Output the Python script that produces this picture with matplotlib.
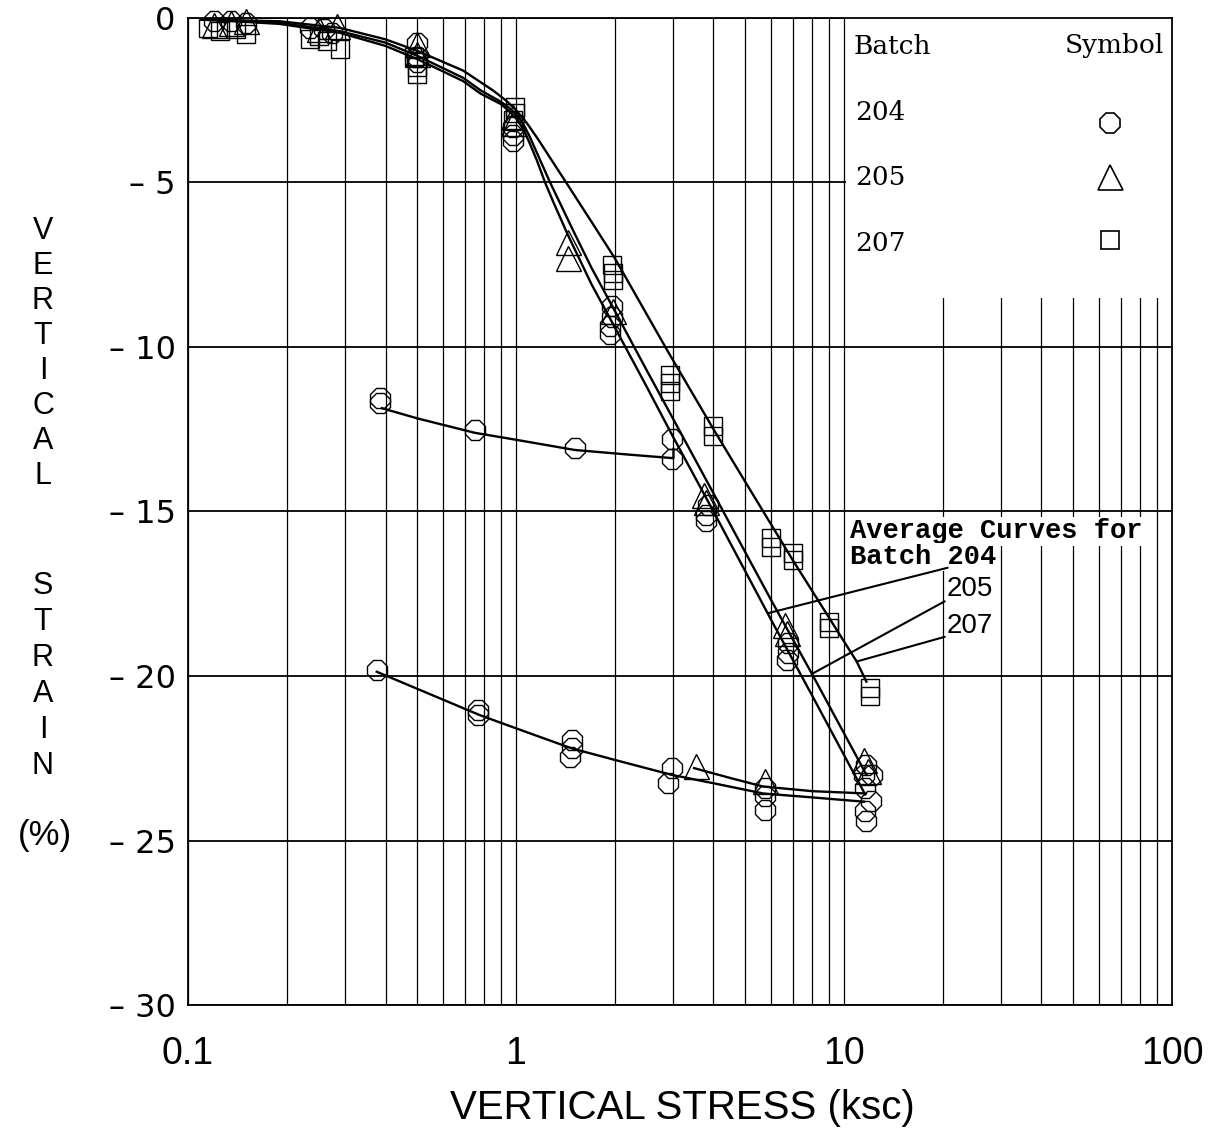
import matplotlib
matplotlib.use('Agg')
import matplotlib.pyplot as plt
from matplotlib.patches import Rectangle
from matplotlib.ticker import LogLocator, NullFormatter

# ---- measured points, batch 204 (octagons): loading, unloading from 3, unloading from 12
b204_stress = [0.12, 0.135, 0.15, 0.235, 0.26, 0.275, 0.5, 0.5, 0.5, 0.98, 0.98, 0.98,
               1.96, 1.96, 1.94, 1.94, 2.98, 3.85, 3.8, 3.8, 6.75, 6.75, 6.7,
               11.7, 11.5, 12.2, 11.6, 12.1, 11.6, 11.7,
               0.385, 0.385, 0.75, 1.51, 2.98,
               0.376, 0.766, 0.766, 1.48, 1.48, 1.46, 2.98, 2.9, 5.75, 5.75, 5.75]
b204_strain = [-0.1, -0.1, -0.15, -0.3, -0.35, -0.45, -0.75, -1.2, -1.35, -3.3, -3.55, -3.75,
               -8.75, -9.1, -9.35, -9.6, -12.8, -14.8, -15.1, -15.3, -19.0, -19.3, -19.5,
               -22.7, -23.0, -23.0, -23.4, -23.8, -24.1, -24.4,
               -11.55, -11.7, -12.52, -13.07, -13.4,
               -19.82, -21.03, -21.2, -21.95, -22.2, -22.45, -22.8, -23.26, -23.4, -23.65, -24.07]

# batch 205 (triangles)
b205_stress = [0.12, 0.135, 0.15, 0.25, 0.285, 0.5, 0.5, 0.98, 0.98, 1.44, 1.44, 1.97,
               3.75, 3.8, 6.6, 6.7, 11.5, 11.8, 3.54, 5.75]
b205_strain = [-0.2, -0.15, -0.1, -0.35, -0.25, -0.8, -1.1, -3.0, -3.2, -6.8, -7.3, -8.9,
               -14.5, -14.7, -18.45, -18.7, -22.55, -22.9, -22.75, -23.2]

# batch 207 (squares)
b207_stress = [0.115, 0.125, 0.14, 0.15, 0.235, 0.25, 0.265, 0.29, 0.49, 0.5, 0.5,
               0.99, 0.99, 0.98, 1.96, 1.98, 1.98, 2.95, 2.95, 2.95, 3.99, 3.99,
               5.98, 5.98, 6.98, 6.98, 9.0, 9.0, 12.0, 12.0]
b207_strain = [-0.3, -0.4, -0.35, -0.5, -0.65, -0.55, -0.7, -0.95, -1.2, -1.5, -1.7,
               -2.7, -2.9, -3.1, -7.5, -7.75, -7.95, -10.85, -11.1, -11.35, -12.4, -12.7,
               -15.8, -16.07, -16.26, -16.47, -18.35, -18.55, -20.37, -20.6]

# ---- average curves
avg204_x = [0.11, 0.15, 0.19, 0.29, 0.4, 0.5, 0.69, 0.78, 0.9, 0.95, 1.0, 1.05, 1.1, 1.16,
            1.226, 1.3, 1.44, 1.7, 2.0, 2.5, 3.0, 4.0, 6.0, 8.0, 11.6]
avg204_y = [-0.05, -0.12, -0.18, -0.45, -0.85, -1.25, -1.92, -2.3, -2.62, -2.82, -3.05,
            -3.35, -3.8, -4.35, -5.0, -5.6, -6.6, -8.1, -9.4, -11.2, -12.7, -15.0, -18.3,
            -20.6, -23.6]
avg205_x = [0.11, 0.15, 0.19, 0.29, 0.4, 0.5, 0.69, 0.78, 0.9, 0.95, 1.0, 1.05, 1.1, 1.17,
            1.27, 1.35, 1.5, 1.7, 2.0, 2.5, 3.0, 4.0, 6.0, 8.0, 11.7]
avg205_y = [-0.05, -0.1, -0.15, -0.4, -0.75, -1.15, -1.82, -2.2, -2.55, -2.72, -2.92,
            -3.2, -3.6, -4.2, -5.0, -5.55, -6.5, -7.6, -8.9, -10.7, -12.15, -14.45, -17.7,
            -19.95, -23.0]
avg207_x = [0.11, 0.19, 0.29, 0.4, 0.5, 0.69, 0.85, 0.93, 1.0, 1.08, 1.17, 1.27, 1.39, 1.7,
            2.0, 2.89, 4.0, 5.0, 7.0, 10.93, 11.7]
avg207_y = [-0.05, -0.1, -0.3, -0.65, -1.0, -1.6, -2.2, -2.5, -2.8, -3.2, -3.7, -4.25,
            -4.85, -6.2, -7.3, -10.1, -12.5, -14.1, -16.5, -19.56, -20.17]

# unloading curves
unl204a_x = [0.39, 0.5, 0.75, 1.0, 1.51, 2.2, 3.02, 3.02]
unl204a_y = [-11.86, -12.17, -12.61, -12.82, -13.13, -13.27, -13.38, -13.1]
unl204b_x = [0.376, 0.5, 0.776, 1.0, 1.479, 2.0, 2.97, 4.0, 5.67, 8.0, 11.5]
unl204b_y = [-19.87, -20.39, -21.19, -21.59, -22.2, -22.55, -23.0, -23.26, -23.57, -23.69, -23.82]
unl205_x = [3.49, 4.5, 5.67, 8.0, 11.67]
unl205_y = [-22.8, -23.1, -23.36, -23.5, -23.57]

batches = ['204', '205', '207']
batch_markers = {'204': ('8', 16), '205': ('^', 18), '207': ('s', 13)}

fig = plt.figure(figsize=(12.14, 11.30), dpi=100)
ax = fig.add_axes([0.1549, 0.1106, 0.8105, 0.8735])

ax.set_xscale('log')
ax.set_xlim(0.1, 100)
ax.set_ylim(-30, 0)

ax.set_xticks([0.1, 1, 10, 100])
ax.set_xticklabels(['0.1', '1', '10', '100'])
ax.xaxis.set_minor_locator(LogLocator(base=10, subs=range(2, 10)))
ax.xaxis.set_minor_formatter(NullFormatter())
yt = list(range(-30, 1, 5))
ax.set_yticks(yt)
ax.set_yticklabels(['0' if v == 0 else '\u2013 %d' % abs(v) for v in yt])
ax.tick_params(which='both', length=0)
ax.tick_params(axis='x', pad=22, labelsize=27)
ax.tick_params(axis='y', pad=9, labelsize=23)
for lbl in ax.get_xticklabels():
    lbl.set_fontfamily('Liberation Sans')
for lbl in ax.get_yticklabels():
    lbl.set_fontfamily('DejaVu Sans')

ax.set_axisbelow(True)
ax.grid(True, which='both', axis='x', color='black', lw=0.9)
ax.grid(True, which='major', axis='y', color='black', lw=1.3)
for sp in ax.spines.values():
    sp.set_linewidth(1.3)

# white legend panel covering the grid
ax.add_patch(Rectangle((10.12, -8.5), 100 - 10.12, 8.5, facecolor='white',
                       edgecolor='none', zorder=1))

# curves
for cx, cy in [(avg204_x, avg204_y), (avg205_x, avg205_y), (avg207_x, avg207_y),
               (unl204a_x, unl204a_y), (unl204b_x, unl204b_y), (unl205_x, unl205_y)]:
    ax.plot(cx, cy, color='black', lw=1.7, zorder=3, solid_joinstyle='round')

# markers
data = {'204': (b204_stress, b204_strain), '205': (b205_stress, b205_strain),
        '207': (b207_stress, b207_strain)}
for b in batches:
    mk, ms = batch_markers[b]
    ax.plot(data[b][0], data[b][1], ls='none', marker=mk, ms=ms, mfc='none',
            mec='black', mew=1.0, zorder=4, clip_on=False)

# legend inside the panel
serif = 'DejaVu Serif'
ax.text(0.676, 0.971, 'Batch', transform=ax.transAxes, fontsize=19, family=serif,
        ha='left', va='center', zorder=5)
ax.text(0.992, 0.972, 'Symbol', transform=ax.transAxes, fontsize=19, family=serif,
        ha='right', va='center', zorder=5)
key_y = [0.904, 0.838, 0.772]
mark_y = [0.894, 0.839, 0.775]
for b, ty, my in zip(batches, key_y, mark_y):
    ax.text(0.678, ty, b, transform=ax.transAxes, fontsize=19, family=serif,
            ha='left', va='center', zorder=5)
    mk, ms = batch_markers[b]
    ax.plot([0.937], [my], transform=ax.transAxes, ls='none', marker=mk, ms=ms,
            mfc='none', mec='black', mew=1.2, zorder=5)

# average curve labels
mono = 'Liberation Mono'
ax.text(0.673, 0.480, 'Average Curves for', transform=ax.transAxes, fontsize=19.5,
        family=mono, weight='bold', ha='left', va='center', zorder=5,
        bbox=dict(facecolor='white', edgecolor='none', pad=1))
ax.text(0.673, 0.454, 'Batch 204', transform=ax.transAxes, fontsize=19.5,
        family=mono, weight='bold', ha='left', va='center', zorder=5,
        bbox=dict(facecolor='white', edgecolor='none', pad=1))
ax.text(0.771, 0.421, '205', transform=ax.transAxes, fontsize=20,
        family='Liberation Sans', ha='left', va='center', zorder=5)
ax.text(0.771, 0.384, '207', transform=ax.transAxes, fontsize=20,
        family='Liberation Sans', ha='left', va='center', zorder=5)

leaders = [((5.87, -18.09), (0.772, 0.443)),
           ((7.97, -19.94), (0.769, 0.409)),
           ((10.93, -19.56), (0.769, 0.373))]
for target, start in leaders:
    ax.annotate('', xy=target, xycoords='data', xytext=start,
                textcoords='axes fraction',
                arrowprops=dict(arrowstyle='-', lw=1.5, color='black',
                                shrinkA=0, shrinkB=0), zorder=5)

# axis titles
fig.text(682 / 1214, 1 - 1108 / 1130, 'VERTICAL STRESS (ksc)', ha='center', va='center',
         fontsize=29, family='Liberation Sans')
for i, ch in enumerate('VERTICAL'):
    fig.text(43 / 1214, 1 - (231 + 35 * i) / 1130, ch, ha='center', va='center',
             fontsize=22, family='Liberation Sans')
for i, ch in enumerate('STRAIN'):
    fig.text(43 / 1214, 1 - (586 + 36 * i) / 1130, ch, ha='center', va='center',
             fontsize=22, family='Liberation Sans')
fig.text(45 / 1214, 1 - 835 / 1130, '(%)', ha='center', va='center',
         fontsize=25, family='Liberation Sans')

fig.savefig('out.png', dpi=100, facecolor='white')
